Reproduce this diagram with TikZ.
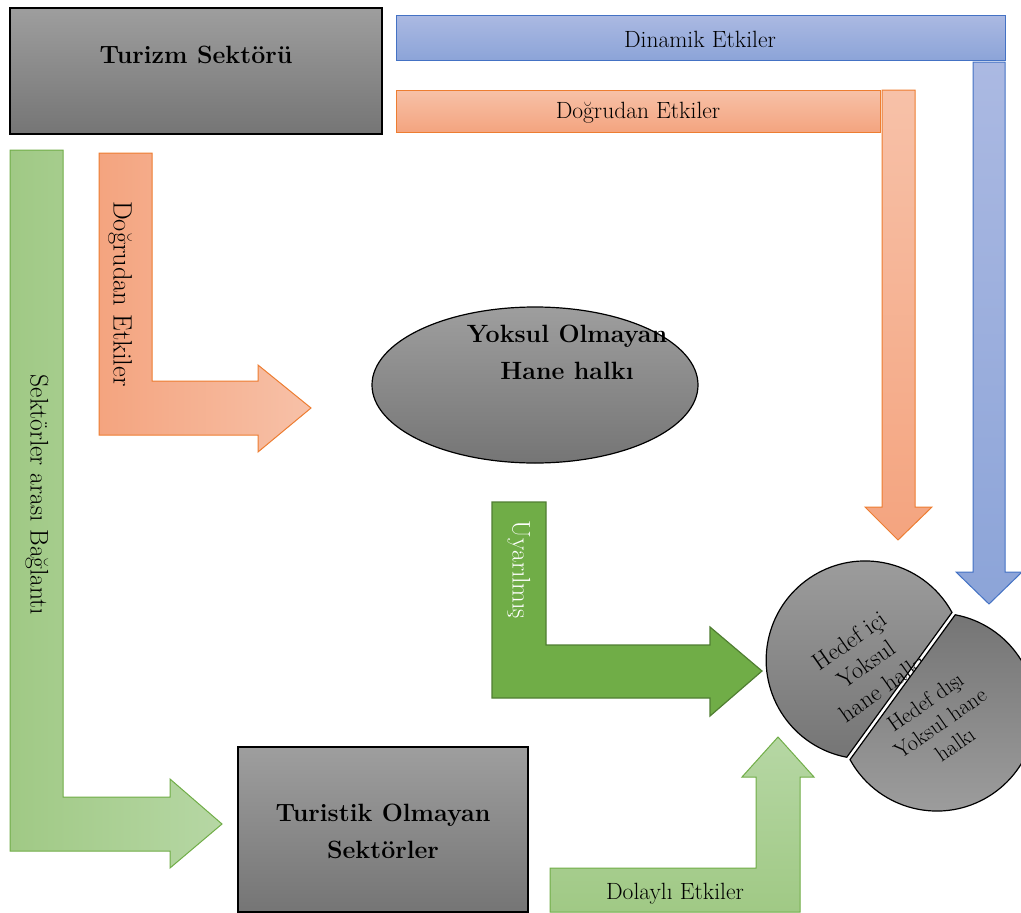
\documentclass[tikz,border=0pt]{standalone}
\usepackage{tikz}

\definecolor{boxtop}{HTML}{9E9E9E}
\definecolor{boxbot}{HTML}{757575}
\definecolor{bluelt}{HTML}{ABB9E2}
\definecolor{bluedk}{HTML}{8CA4D8}
\definecolor{blueln}{HTML}{4472C4}
\definecolor{orglt}{HTML}{F7C1A8}
\definecolor{orgdk}{HTML}{F4A47F}
\definecolor{orgln}{HTML}{ED7D31}
\definecolor{grnlt}{HTML}{B6D7A4}
\definecolor{grndk}{HTML}{A0C985}
\definecolor{grnln}{HTML}{70AD47}
\definecolor{grnfill}{HTML}{70AD47}
\definecolor{grnedge}{HTML}{507E32}

\tikzset{
    graybox/.style={draw=black, line width=1.2pt, top color=boxtop, bottom color=boxbot},
    bluebar/.style={draw=blueln, line width=1pt, top color=bluelt, bottom color=bluedk},
    orgbar/.style={draw=orgln, line width=1pt, top color=orglt, bottom color=orgdk},
    grnbar/.style={draw=grnln, line width=1pt, top color=grnlt, bottom color=grndk},
    txt/.style={font=\fontsize{23.5}{28}\selectfont},
    vtxt/.style={font=\fontsize{25.5}{30}\selectfont, rotate=-90},
    bigtxt/.style={font=\fontsize{25}{37}\selectfont\bfseries, align=center},
    chordtxt/.style={align=center, rotate=35, text=black},
}

\begin{document}
\begin{tikzpicture}[x=1pt, y=-1pt]
    \useasboundingbox (0,0) rectangle (1021,913);

    \draw[graybox] (10,8) rectangle (382,134) (196,55) node[bigtxt](turizm){Turizm Sektörü};

    \draw[bluebar] (396,15) rectangle (1005,60) (700,39) node[txt](dinamik){Dinamik Etkiler};
    \draw[bluebar] (973,62) -- (1005,62) -- (1005,572) -- (1022,572) -- (989,604) -- (956,572) -- (973,572) -- cycle;

    \draw[orgbar] (396,90) rectangle (880,132) (638,113) node[txt](dogrudanust){Doğrudan Etkiler};
    \draw[orgbar] (882,90) -- (915,90) -- (915,507) -- (932,507) -- (898,540) -- (865,507) -- (882,507) -- cycle;

    \draw[draw=orgln, line width=1pt, left color=orgdk, right color=orglt] (99,153) -- (152,153) -- (152,381) -- (258,381) -- (258,365) -- (311,408) -- (258,452) -- (258,435) -- (99,435) -- cycle;
    \node[vtxt, font=\fontsize{26.5}{30}\selectfont] (dogrudansol) at (120,294) {Doğrudan Etkiler};

    \draw[draw=grnln, line width=1pt, left color=grndk, right color=grnlt] (10,150) -- (63,150) -- (63,797) -- (170,797) -- (170,779) -- (222,824) -- (170,868) -- (170,851) -- (10,851) -- cycle;
    \node[vtxt] (sektorler) at (37,495) {Sektörler arası Bağlantı};

    \draw[graybox] (535,385) ellipse [x radius=163, y radius=78];
    \node[bigtxt] (yoksulolmayan) at (567,352) {Yoksul Olmayan\\Hane halkı};

    \draw[draw=grnedge, line width=1.2pt, fill=grnfill] (492,502) -- (546,502) -- (546,645) -- (710,645) -- (710,627) -- (762,671) -- (710,716) -- (710,698) -- (492,698) -- cycle;
    \node[vtxt, text=white] (uyarilmis) at (519,570) {Uyarılmış};

    \draw[grnbar] (550,868) -- (756,868) -- (756,777) -- (742,777) -- (778,737) -- (814,777) -- (800,777) -- (800,912) -- (550,912) -- cycle;
    \node[txt] (dolayli) at (675,894) {Dolaylı Etkiler};

    \draw[graybox] (238,747) rectangle (528,912) (383,831) node[bigtxt](turistik){Turistik Olmayan\\Sektörler};

    \begin{scope}[shift={(901,686)}, rotate=-36]
      \draw[draw=black, line width=1.2pt, top color=boxtop, bottom color=boxbot] (-2,89.5) arc[start angle=64.7, end angle=295.3, radius=99] -- cycle;
    \end{scope}
    \node[chordtxt, font=\fontsize{24}{29}\selectfont] (hedefici) at (866,664) {Hedef içi\\Yoksul\\hane halkı};
    \begin{scope}[shift={(901,686)}, rotate=-36]
      \draw[draw=black, line width=1.2pt, top color=boxbot, bottom color=boxtop] (2,-89.5) arc[start angle=244.7, end angle=475.3, radius=99] -- cycle;
    \end{scope}
    \node[chordtxt, font=\fontsize{22}{26}\selectfont] (hedefdisi) at (940,723) {Hedef dışı\\Yoksul hane\\halkı};

\end{tikzpicture}
\end{document}
